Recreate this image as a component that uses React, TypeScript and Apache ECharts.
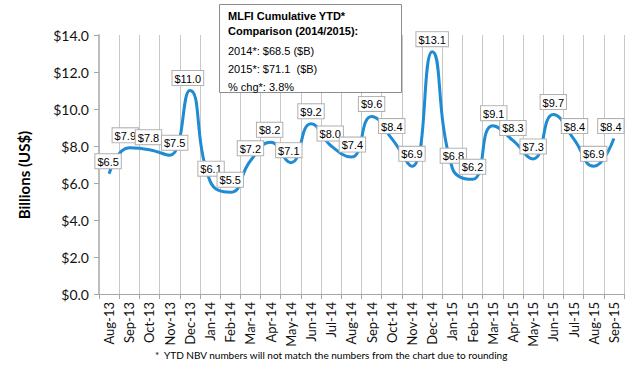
import React, { useEffect, useRef } from "react";
import * as echarts from "echarts";

const categories = [
  "Aug-13", "Sep-13", "Oct-13", "Nov-13", "Dec-13", "Jan-14", "Feb-14", "Mar-14", "Apr-14",
  "May-14", "Jun-14", "Jul-14", "Aug-14", "Sep-14", "Oct-14", "Nov-14", "Dec-14", "Jan-15",
  "Feb-15", "Mar-15", "Apr-15", "May-15", "Jun-15", "Jul-15", "Aug-15", "Sep-15",
];
const values = [
  6.5, 7.9, 7.8, 7.5, 11.0, 6.1, 5.5, 7.2, 8.2, 7.1, 9.2, 8.0, 7.4, 9.6, 8.4, 6.9, 13.1, 6.8,
  6.2, 9.1, 8.3, 7.3, 9.7, 8.4, 6.9, 8.4,
];
const yTicks = [0, 2, 4, 6, 8, 10, 12, 14];
const boxTitle = ["MLFI Cumulative YTD*", "Comparison (2014/2015):"];
const boxLines = ["2014*: $68.5 ($B)", "2015*: $71.1  ($B)", "% chg*: 3.8%"];
const footnote = "*  YTD NBV numbers will not match the numbers from the chart due to rounding";

// horizontal nudges of the value labels (px), as placed in the original
const labelShift = [
  -1, -4, -1, 5, -2, 1, 0, 0, -1, -2, 0, -1, 1, 0, 0, 0, 0, 1, 0, 1, 0, 0, 0, 1, 0, -3,
];

export default function App() {
  const ref = useRef<HTMLDivElement>(null);
  useEffect(() => {
    document.body.style.margin = "0";
    if (!ref.current) return;
    const chart = echarts.init(ref.current, null, { renderer: "svg" });
    const cal = "Lato, 'Open Sans', sans-serif";
    const arial = "'Liberation Sans', Arial, sans-serif";
    chart.setOption({
      animation: false,
      backgroundColor: "#ffffff",
      grid: {
        left: 99,
        right: 8,
        top: 35,
        bottom: 81,
        containLabel: false,
        outerBoundsMode: "none",
      },
      xAxis: {
        type: "category",
        data: categories,
        boundaryGap: true,
        axisLine: { show: true, lineStyle: { color: "#a6a6a6", width: 1 } },
        axisTick: { show: true, length: 5, lineStyle: { color: "#a6a6a6" } },
        splitLine: { show: true, lineStyle: { color: "#c8c8c8", width: 1 } },
        axisLabel: {
          rotate: 90,
          interval: 0,
          fontFamily: cal,
          fontSize: 13,
          color: "#111",
          margin: 8,
        },
      },
      yAxis: {
        type: "value",
        min: 0,
        max: 14,
        interval: 2,
        axisLine: { show: true, lineStyle: { color: "#bdbdbd", width: 2 } },
        axisTick: { show: true, length: 5, lineStyle: { color: "#a6a6a6" } },
        splitLine: { show: false },
        axisLabel: {
          fontFamily: cal,
          fontSize: 14,
          color: "#111",
          margin: 10,
          formatter: (v: number) => (yTicks.includes(v) ? "$" + v.toFixed(1) : ""),
        },
      },
      series: [
        {
          type: "line",
          data: values.map((v, i) => ({
            value: v,
            label: { offset: [labelShift[i], 0] },
          })),
          smooth: 0.5,
          symbol: "circle",
          symbolSize: 1,
          showSymbol: true,
          itemStyle: { color: "rgba(0,0,0,0)" },
          lineStyle: { color: "#1e8bd3", width: 3 },
          label: {
            show: true,
            position: "top",
            distance: 5,
            formatter: (p: any) => "$" + Number(p.value).toFixed(1),
            fontFamily: arial,
            fontSize: 11,
            color: "#000",
            backgroundColor: "#ffffff",
            borderColor: "#b0b0b0",
            borderWidth: 1,
            padding: [2, 2, 1, 2],
          },
        },
      ],
      graphic: [
        {
          type: "text",
          x: 24,
          y: 175,
          rotation: Math.PI / 2,
          style: {
            text: "Billions (US$)",
            font: "bold 15px Lato, 'Open Sans', sans-serif",
            fill: "#000",
            align: "center",
            verticalAlign: "middle",
          },
        },
        {
          type: "rect",
          z: 100,
          shape: { x: 219.5, y: 4.5, width: 182, height: 88 },
          style: { fill: "#ffffff", stroke: "#8c8c8c", lineWidth: 1 },
        },
        {
          type: "text",
          z: 101,
          x: 228,
          y: 8,
          style: {
            text: boxTitle.join("\n"),
            font: "bold 11px 'Liberation Sans', Arial, sans-serif",
            fill: "#000",
            lineHeight: 15,
            verticalAlign: "top",
          },
        },
        {
          type: "text",
          z: 101,
          x: 228,
          y: 42,
          style: {
            text: boxLines.join("\n"),
            font: "11px 'Liberation Sans', Arial, sans-serif",
            fill: "#000",
            lineHeight: 18,
            verticalAlign: "top",
          },
        },
        {
          type: "text",
          x: 155,
          y: 350,
          style: {
            text: footnote,
            font: "10px Lato, 'Open Sans', sans-serif",
            fill: "#000",
            verticalAlign: "top",
          },
        },
      ],
    });
    return () => chart.dispose();
  }, []);
  return <div ref={ref} style={{ width: 632, height: 375 }} />;
}
